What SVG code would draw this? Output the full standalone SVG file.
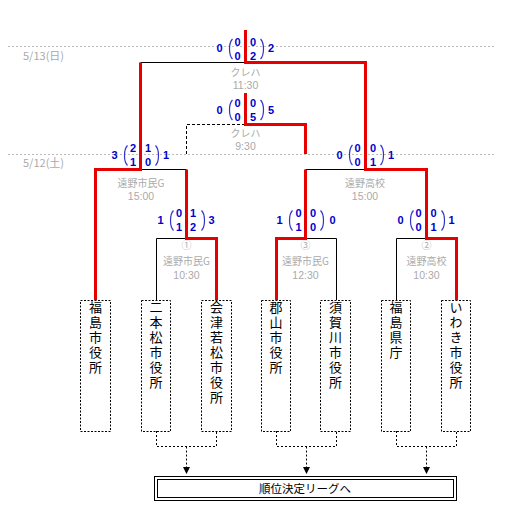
<svg xmlns="http://www.w3.org/2000/svg" xmlns:xlink="http://www.w3.org/1999/xlink" width="507" height="522" viewBox="0 0 507 522">
<style>
.red{stroke:#e60000;stroke-width:3;fill:none;stroke-linejoin:miter}
.blk{stroke:#000;stroke-width:1;fill:none}
.dsh{stroke:#000;stroke-width:1;fill:none;stroke-dasharray:3 2}
.dot{stroke:#000;stroke-width:1;fill:none;stroke-dasharray:2 2}
.sep{stroke:#bbb;stroke-width:1;stroke-dasharray:2 2}
.date{font-family:"Noto Sans CJK JP","Noto Sans",sans-serif;font-size:11px;fill:#aaa}
.lbl{font-family:"Noto Sans CJK JP","Noto Sans",sans-serif;font-size:10px;fill:#aaa;text-anchor:middle}
.tm{font-family:"Liberation Sans",Arial,sans-serif;font-size:10.5px;fill:#aaa;text-anchor:middle}
.sc{font-family:"Liberation Sans",Arial,sans-serif;font-weight:bold;font-size:11px;fill:#0000cc;text-anchor:middle}
.brk{stroke:#3333cc;stroke-width:1.2;fill:none}
.box{stroke:#000;stroke-width:1;fill:none;stroke-dasharray:2 1.5}
.team{font-family:"Noto Sans CJK JP",sans-serif;font-size:13px;fill:#000;writing-mode:vertical-rl;letter-spacing:2px}
.lg{font-family:"Noto Sans CJK JP",sans-serif;font-size:11.5px;fill:#000;text-anchor:middle}
</style>
<defs>
<g id="brackets">
<path class="brk" d="M-13,-10 C-17,-6 -17,6 -13,10"/>
<path class="brk" d="M15,-10 C19,-6 19,6 15,10"/>
</g>
</defs>
<rect width="507" height="522" fill="#fff"/>

<g id="dates">
<line class="sep" x1="8" y1="46.5" x2="495" y2="46.5"/>
<line class="sep" x1="8" y1="154.5" x2="495" y2="154.5"/>
<text class="date" x="23" y="60">5/13(日)</text>
<text class="date" x="23" y="167">5/12(土)</text>
</g>

<g id="connectors">
<path class="blk" d="M140.5,62.5 H245.5"/>
<path class="blk" d="M140.5,169.5 H186.5"/>
<path class="blk" d="M156.5,300 V238.5 H186.5"/>
<path class="blk" d="M305.5,169.5 H365.5"/>
<path class="blk" d="M305.5,238.5 H336.5 V300"/>
<path class="blk" d="M396.5,300 V238.5 H426.5"/>
<path class="dsh" d="M186.5,154 V124.5 H245.5"/>
<path class="red" d="M456.5,300 V238.5 H426.5 V169.5 H365.5 V62.5 H245.5 V30"/>
<path class="red" d="M95.5,300 V169.5 H140.5 V62.5"/>
<path class="red" d="M216.5,300 V238.5 H186.5 V169.5"/>
<path class="red" d="M276.5,300 V238.5 H305.5 V169.5"/>
<path class="red" d="M305.5,154 V124.5 H245.5 V93"/>
<path class="dot" d="M156.5,431 V446.5 H216.5 V431 M186.5,446.5 V468"/>
<path class="dot" d="M276.5,431 V446.5 H336.5 V431 M306.5,446.5 V468"/>
<path class="dot" d="M396.5,431 V446.5 H456.5 V431 M426.5,446.5 V468"/>
<path d="M183,467 H190 L186.5,474 Z M303,467 H310 L306.5,474 Z M423,467 H430 L426.5,474 Z" fill="#000"/>
</g>

<g id="match-final">
<g transform="translate(245.5,49)">
<use xlink:href="#brackets"/>
<text class="sc" x="-26" y="3">0</text><text class="sc" x="-8" y="-3.2">0</text><text class="sc" x="7.5" y="-3.2">0</text>
<text class="sc" x="-8" y="10.8">0</text><text class="sc" x="7.5" y="10.8">2</text><text class="sc" x="25.5" y="3">2</text>
</g>
<text class="lbl" x="245.5" y="75.5">クレハ</text>
<text class="tm" x="245.5" y="89">11:30</text>
</g>

<g id="match-3rd">
<g transform="translate(245.5,110)">
<use xlink:href="#brackets"/>
<text class="sc" x="-26" y="3.5">0</text><text class="sc" x="-8" y="-3.2">0</text><text class="sc" x="7.5" y="-3.2">0</text>
<text class="sc" x="-8" y="10.8">0</text><text class="sc" x="7.5" y="10.8">5</text><text class="sc" x="25.5" y="3.5">5</text>
</g>
<text class="lbl" x="245.5" y="136.5">クレハ</text>
<text class="tm" x="245.5" y="150">9:30</text>
</g>

<g id="match-semi1">
<g transform="translate(140.5,155.5)">
<use xlink:href="#brackets"/>
<text class="sc" x="-26" y="3.5">3</text><text class="sc" x="-7.5" y="-3.2">2</text><text class="sc" x="7.5" y="-3.2">1</text>
<text class="sc" x="-7.5" y="10.8">1</text><text class="sc" x="7.5" y="10.8">0</text><text class="sc" x="25.5" y="3.5">1</text>
</g>
<text class="lbl" x="141" y="186.5">遠野市民G</text>
<text class="tm" x="141" y="200">15:00</text>
</g>

<g id="match-semi2">
<g transform="translate(365.5,155)">
<use xlink:href="#brackets"/>
<text class="sc" x="-26" y="3.5">0</text><text class="sc" x="-8" y="-3.2">0</text><text class="sc" x="7.5" y="-3.2">0</text>
<text class="sc" x="-8" y="10.8">0</text><text class="sc" x="7.5" y="10.8">1</text><text class="sc" x="25.5" y="3.5">1</text>
</g>
<text class="lbl" x="365" y="186.5">遠野高校</text>
<text class="tm" x="365" y="200">15:00</text>
</g>

<g id="match-1">
<g transform="translate(186.5,220.5)">
<use xlink:href="#brackets"/>
<text class="sc" x="-26" y="3.5">1</text><text class="sc" x="-7.5" y="-3.2">0</text><text class="sc" x="6.5" y="-3.2">1</text>
<text class="sc" x="-7.5" y="10.8">1</text><text class="sc" x="6.5" y="10.8">2</text><text class="sc" x="25" y="3.5">3</text>
</g>
<text class="lbl" x="186.5" y="249">①</text>
<text class="lbl" x="186.5" y="265">遠野市民G</text>
<text class="tm" x="186.5" y="278.5">10:30</text>
</g>

<g id="match-3">
<g transform="translate(305.5,220.5)">
<use xlink:href="#brackets"/>
<text class="sc" x="-26" y="3.5">1</text><text class="sc" x="-7" y="-3.2">0</text><text class="sc" x="7.5" y="-3.2">0</text>
<text class="sc" x="-7" y="10.8">1</text><text class="sc" x="7.5" y="10.8">0</text><text class="sc" x="27" y="3.5">0</text>
</g>
<text class="lbl" x="305.5" y="249">③</text>
<text class="lbl" x="305.5" y="265">遠野市民G</text>
<text class="tm" x="305.5" y="278.5">12:30</text>
</g>

<g id="match-2">
<g transform="translate(426.5,220.5)">
<use xlink:href="#brackets"/>
<text class="sc" x="-26" y="3.5">0</text><text class="sc" x="-8" y="-3.2">0</text><text class="sc" x="7" y="-3.2">0</text>
<text class="sc" x="-8" y="10.8">0</text><text class="sc" x="7" y="10.8">1</text><text class="sc" x="25" y="3.5">1</text>
</g>
<text class="lbl" x="426.5" y="249">②</text>
<text class="lbl" x="426.5" y="265">遠野高校</text>
<text class="tm" x="426.5" y="278.5">10:30</text>
</g>

<g id="team-fukushima-city">
<rect class="box" x="80.5" y="300.5" width="30" height="131"/>
<text class="team" x="95.5" y="301">福島市役所</text>
</g>
<g id="team-nihonmatsu">
<rect class="box" x="141.5" y="300.5" width="29" height="131"/>
<text class="team" x="156" y="301">二本松市役所</text>
</g>
<g id="team-aizuwakamatsu">
<rect class="box" x="201.5" y="300.5" width="30" height="131"/>
<text class="team" x="216.5" y="301">会津若松市役所</text>
</g>
<g id="team-koriyama">
<rect class="box" x="261.5" y="300.5" width="29" height="131"/>
<text class="team" x="276" y="301">郡山市役所</text>
</g>
<g id="team-sukagawa">
<rect class="box" x="320.5" y="300.5" width="30" height="131"/>
<text class="team" x="335.5" y="301">須賀川市役所</text>
</g>
<g id="team-fukushima-pref">
<rect class="box" x="381.5" y="300.5" width="29" height="131"/>
<text class="team" x="396" y="301">福島県庁</text>
</g>
<g id="team-iwaki">
<rect class="box" x="441.5" y="300.5" width="29" height="131"/>
<text class="team" x="456" y="301">いわき市役所</text>
</g>

<g id="league">
<rect x="154.5" y="476.5" width="302" height="24" fill="none" stroke="#000"/>
<rect x="157.5" y="479.5" width="296" height="18" fill="none" stroke="#000"/>
<text class="lg" x="305" y="492.5">順位決定リーグへ</text>
</g>
</svg>
